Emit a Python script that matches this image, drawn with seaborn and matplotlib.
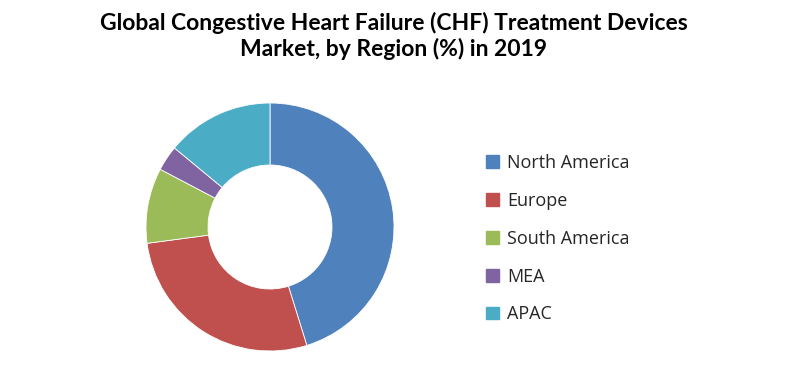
import matplotlib
matplotlib.use("Agg")
import matplotlib.pyplot as plt
import matplotlib.patches as mpatches
import seaborn as sns

regions = ['North America', 'Europe', 'South America', 'MEA', 'APAC']
shares = [45.2, 27.7, 9.8, 3.3, 14.0]
colors = ['#4F81BD', '#C0504D', '#9BBB59', '#8064A2', '#4BACC6']

sns.set_theme(style="white")
plt.rcParams['font.family'] = ['Lato', 'DejaVu Sans']

fig = plt.figure(figsize=(7.88, 3.85), dpi=100)

# donut: center ~ (270, 227) px, radius ~124 px
cx, cy, r = 270, 227, 124
ax = fig.add_axes([(cx - r) / 788, 1 - (cy + r) / 385, 2 * r / 788, 2 * r / 385])
ax.pie(shares, colors=colors, startangle=90, counterclock=False,
       wedgeprops=dict(width=0.5, edgecolor='white', linewidth=0.6))
ax.set_xlim(-1, 1)
ax.set_ylim(-1, 1)
ax.axis('off')

fig.text(0.5, 1 - 36 / 385, 'Global Congestive Heart Failure (CHF) Treatment Devices\nMarket, by Region (%) in 2019',
         ha='center', va='center', fontsize=16.5, fontweight='bold', color='black', linespacing=1.2)

handles = [mpatches.Patch(color=c, label=l) for c, l in zip(colors, regions)]
fig.legend(handles=handles, loc='upper left', bbox_to_anchor=(486 / 788, 1 - 154 / 385),
           frameon=False, handlelength=0.7, handleheight=0.7,
           handletextpad=0.45, labelspacing=1.1, borderaxespad=0, borderpad=0,
           prop={'family': ['Open Sans', 'DejaVu Sans'], 'size': 13})

fig.savefig('out.png', dpi=100)
